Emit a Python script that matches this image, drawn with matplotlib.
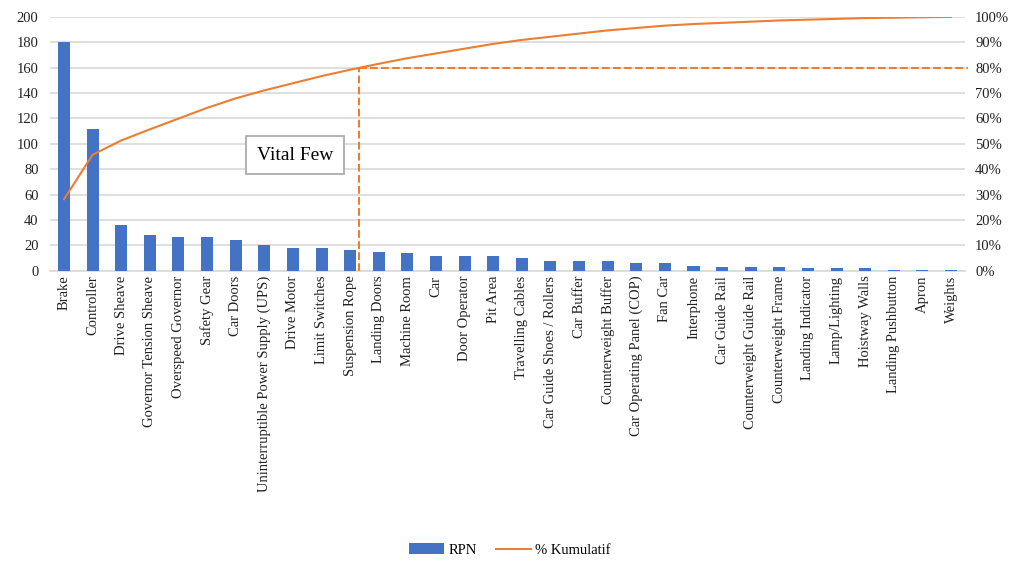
import matplotlib.pyplot as plt
import numpy as np

plt.rcParams['font.family'] = ['Liberation Serif', 'DejaVu Serif']

categories = ['Brake', 'Controller', 'Drive Sheave', 'Governor Tension Sheave',
              'Overspeed Governor', 'Safety Gear', 'Car Doors',
              'Uninterruptible Power Supply (UPS)', 'Drive Motor', 'Limit Switches',
              'Suspension Rope', 'Landing Doors', 'Machine Room', 'Car',
              'Door Operator', 'Pit Area', 'Travelling Cables',
              'Car Guide Shoes / Rollers', 'Car Buffer', 'Counterweight Buffer',
              'Car Operating Panel (COP)', 'Fan Car', 'Interphone', 'Car Guide Rail',
              'Counterweight Guide Rail', 'Counterweight Frame', 'Landing Indicator',
              'Lamp/Lighting', 'Hoistway Walls', 'Landing Pushbutton', 'Apron', 'Weights']
rpn = [180, 112, 36, 28, 27, 27, 24, 20, 18, 18, 16, 15, 14, 12, 12, 12, 10,
       8, 8, 8, 6, 6, 4, 3, 3, 3, 2, 2, 2, 1, 1, 1]

cum_pct = np.cumsum(rpn) / sum(rpn)

bar_color = '#4472C4'
line_color = '#ED7D31'

fig = plt.figure(figsize=(10.14, 5.63), dpi=100)
ax = fig.add_axes([0.049, 0.519, 0.903, 0.451])
x = np.arange(len(categories))
ax.bar(x, rpn, width=0.42, color=bar_color, label='RPN', zorder=3)
ax.set_xlim(-0.5, len(categories) - 0.5)
ax.set_ylim(0, 200)
ax.set_yticks(range(0, 201, 20))
ax.grid(axis='y', color='#d9d9d9', linewidth=1.2, zorder=0)
ax.set_axisbelow(True)
for s in ['left', 'right', 'top']:
    ax.spines[s].set_visible(False)
ax.spines['bottom'].set_color('#d9d9d9')
ax.spines['bottom'].set_linewidth(1.2)
ax.tick_params(axis='both', length=0, labelsize=10.5, colors='#222222')
ax.tick_params(axis='y', pad=8)
ax.set_xticks(x)
ax.set_xticklabels(categories, rotation=90, ha='center', va='top')

ax2 = ax.twinx()
ax2.plot(x, cum_pct, color=line_color, linewidth=1.5, label='% Kumulatif', zorder=4)
ax2.set_ylim(0, 1)
ax2.set_yticks(np.arange(0, 1.01, 0.1))
ax2.set_yticklabels(['%d%%' % round(v * 100) for v in np.arange(0, 1.01, 0.1)])
for s in ax2.spines.values():
    s.set_visible(False)
ax2.tick_params(axis='y', length=0, labelsize=10.5, colors='#222222', pad=7)

# 80% cut-off markers
ax2.plot([10.3, 10.3], [0, 0.8], color=line_color, linestyle='--', linewidth=1.5, clip_on=False)
ax2.plot([10.3, 31.6], [0.8, 0.8], color=line_color, linestyle='--', linewidth=1.5, clip_on=False)

ax.text(8.07, 91, 'Vital Few', fontsize=14, ha='center', va='center',
        bbox=dict(boxstyle='square,pad=0.55', facecolor='white', edgecolor='#a6a6a6', linewidth=1.2),
        zorder=5)

h1, l1 = ax.get_legend_handles_labels()
h2, l2 = ax2.get_legend_handles_labels()
fig.legend(h1 + h2, l1 + l2, loc='center', bbox_to_anchor=(0.503, 0.023), ncol=2,
           frameon=False, fontsize=10.5, handlelength=2.4, handletextpad=0.3,
           columnspacing=1.3)

fig.savefig('out.png', dpi=100)
